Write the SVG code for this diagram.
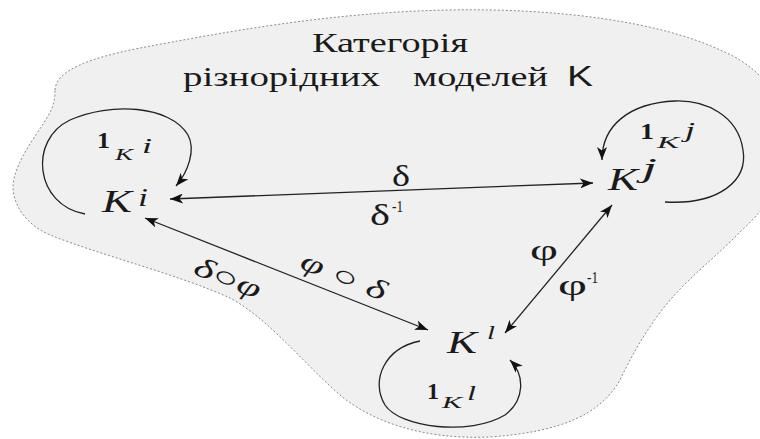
<svg xmlns="http://www.w3.org/2000/svg" width="760" height="439" viewBox="0 0 760 439">
<style>
text{fill:#1a1a1a}
.edge{fill:none;stroke:#222;stroke-width:1.3}
.blob{fill:#f0f0f0;stroke:#8a8a8a;stroke-width:1;stroke-dasharray:2 2}
</style>
<defs>
<marker id="ah" markerUnits="userSpaceOnUse" markerWidth="14" markerHeight="10" refX="13" refY="5" orient="auto-start-reverse">
<path d="M0,0 L13,5 L0,10 L3.5,5 Z" fill="#111"/>
</marker>
</defs>
<path class="blob" d="M 55,90 C 56,70 90,58 140,48 C 220,33 330,12 450,10 C 560,8 660,22 720,50 C 755,64 782,92 788,132 C 792,177 768,206 740,232 C 715,258 685,280 662,310 C 645,332 632,355 620,380 C 600,415 560,432 490,437 C 420,440 370,420 340,395 C 300,360 270,320 230,298 C 180,275 100,255 50,235 C 20,222 8,195 15,175 C 22,150 45,125 52,108 C 55,100 55,95 55,90 Z"/>
<g id="title" style="font-family:'Liberation Serif',serif">
<text x="312" y="52" font-size="27" textLength="156" lengthAdjust="spacingAndGlyphs">Категорія</text>
<text x="183" y="86" font-size="28" textLength="197" lengthAdjust="spacingAndGlyphs">різнорідних</text>
<text x="413" y="86" font-size="28" textLength="135" lengthAdjust="spacingAndGlyphs">моделей</text>
<text x="567" y="86" font-size="30" style="font-family:'Liberation Sans',sans-serif" textLength="26" lengthAdjust="spacingAndGlyphs">K</text>
</g>
<g id="connectors">
<line class="edge" x1="170" y1="199" x2="593" y2="183" marker-start="url(#ah)" marker-end="url(#ah)"/>
<line class="edge" x1="145" y1="218" x2="428" y2="330" marker-start="url(#ah)" marker-end="url(#ah)"/>
<line class="edge" x1="505" y1="333" x2="612" y2="205" marker-start="url(#ah)" marker-end="url(#ah)"/>
<path class="edge" d="M 85,214 C 35,205 28,140 70,120 C 110,102 170,105 188,135 C 196,150 188,172 176,186" marker-end="url(#ah)"/>
<path class="edge" d="M 665,202 C 720,205 748,180 743,150 C 738,115 705,100 675,101 C 630,103 602,125 602,160" marker-end="url(#ah)"/>
<path class="edge" d="M 420,341 C 385,348 370,380 385,405 C 400,428 470,436 505,415 C 525,400 525,375 510,360" marker-end="url(#ah)"/>
</g>
<g id="edge-labels" style="font-family:'Liberation Serif',serif">
<text x="392" y="186" font-size="30" textLength="18" lengthAdjust="spacingAndGlyphs">δ</text>
<text x="370" y="225" font-size="30" textLength="20" lengthAdjust="spacingAndGlyphs">δ</text>
<text x="392" y="212" font-size="16" textLength="11" lengthAdjust="spacingAndGlyphs">-1</text>
<text x="530" y="260" font-size="30" textLength="28" lengthAdjust="spacingAndGlyphs">φ</text>
<text x="558" y="295" font-size="30" textLength="29" lengthAdjust="spacingAndGlyphs">φ</text>
<text x="587" y="283" font-size="16" textLength="11" lengthAdjust="spacingAndGlyphs">-1</text>
<text x="227" y="287" font-size="28" font-style="italic" text-anchor="middle" textLength="70" lengthAdjust="spacingAndGlyphs" transform="rotate(21.6 227 280)">δ○φ</text>
<text x="343" y="285" font-size="28" font-style="italic" text-anchor="middle" textLength="90" lengthAdjust="spacingAndGlyphs" transform="rotate(21.6 343 278)">φ ○ δ</text>
</g>
<g id="node-Ki" style="font-family:'Liberation Serif',serif;font-style:italic">
<text x="102" y="212" font-size="32" textLength="30" lengthAdjust="spacingAndGlyphs">K</text>
<text x="138" y="206" font-size="26" textLength="10" lengthAdjust="spacingAndGlyphs">i</text>
<text x="97" y="148" font-size="24" style="font-weight:bold;font-style:normal" textLength="13" lengthAdjust="spacingAndGlyphs">1</text>
<text x="115" y="160" font-size="17" textLength="18" lengthAdjust="spacingAndGlyphs">K</text>
<text x="142" y="153" font-size="22" textLength="10" lengthAdjust="spacingAndGlyphs">i</text>
</g>
<g id="node-Kj" style="font-family:'Liberation Serif',serif;font-style:italic">
<text x="608" y="190" font-size="32" textLength="30" lengthAdjust="spacingAndGlyphs">K</text>
<text x="642" y="177" font-size="27" textLength="15" lengthAdjust="spacingAndGlyphs">j</text>
<text x="640" y="139" font-size="24" style="font-weight:bold;font-style:normal" textLength="14" lengthAdjust="spacingAndGlyphs">1</text>
<text x="657" y="148" font-size="17" textLength="22" lengthAdjust="spacingAndGlyphs">K</text>
<text x="685" y="137" font-size="21" textLength="10" lengthAdjust="spacingAndGlyphs">j</text>
</g>
<g id="node-Kl" style="font-family:'Liberation Serif',serif;font-style:italic">
<text x="447" y="353" font-size="32" textLength="30" lengthAdjust="spacingAndGlyphs">K</text>
<text x="487" y="339" font-size="18" textLength="8" lengthAdjust="spacingAndGlyphs">l</text>
<text x="427" y="399" font-size="24" style="font-weight:bold;font-style:normal" textLength="12" lengthAdjust="spacingAndGlyphs">1</text>
<text x="442" y="408" font-size="17" textLength="20" lengthAdjust="spacingAndGlyphs">K</text>
<text x="467" y="400" font-size="21" textLength="9" lengthAdjust="spacingAndGlyphs">l</text>
</g>
</svg>
